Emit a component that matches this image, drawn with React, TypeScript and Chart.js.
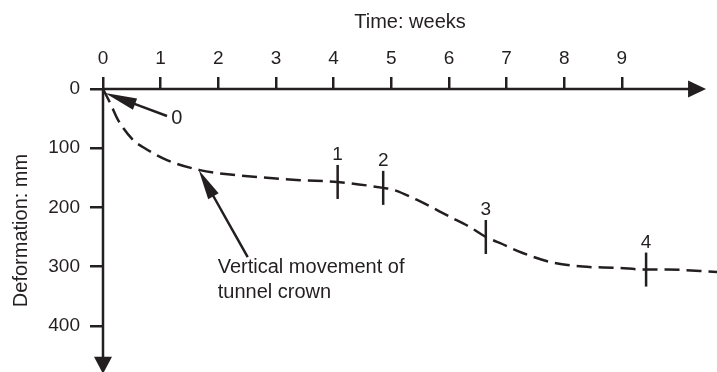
import React, { useEffect, useRef } from "react";
import { Chart, registerables } from "chart.js";

Chart.register(...registerables);

// ---- data ----
const WEEK_TICKS = [0, 1, 2, 3, 4, 5, 6, 7, 8, 9];
const DEFORMATION_TICKS = [0, 100, 200, 300, 400];

const CURVE_WEEKS = [0, 0.14, 0.26, 0.52, 0.69, 1.11, 1.68, 2.25, 2.72, 3.42, 4.07, 4.86, 5.03, 5.44, 6.02, 6.36, 6.64, 6.88, 7.28, 7.75, 8.32, 8.91, 9.42, 9.78, 10.65];
const CURVE_DEFORMATION = [0, 27, 52, 86, 98, 120, 137, 145, 149, 154, 157, 167, 170, 187, 216, 233, 250, 260, 277, 292, 300, 302, 305, 305, 309];

const MARKER_WEEKS = [4.07, 4.86, 6.64, 9.42];
const MARKER_DEFORMATION = [157, 167, 250, 305];
const MARKER_LABELS = ["1", "2", "3", "4"];

const X_TITLE = "Time: weeks";
const Y_TITLE = "Deformation: mm";
const CROWN_NOTE = ["Vertical movement of", "tunnel crown"];
const START_NOTE = "0";

const INK = "#231f20";
const FONT = '"Liberation Sans", Arial, Helvetica, sans-serif';

function arrow(ctx: CanvasRenderingContext2D, x1: number, y1: number, x2: number, y2: number, headLen: number, halfW: number) {
  const dx = x2 - x1, dy = y2 - y1;
  const len = Math.hypot(dx, dy);
  const ux = dx / len, uy = dy / len;
  const bx = x2 - ux * headLen, by = y2 - uy * headLen;
  ctx.beginPath();
  ctx.moveTo(x1, y1);
  ctx.lineTo(bx + ux * 2, by + uy * 2);
  ctx.stroke();
  ctx.beginPath();
  ctx.moveTo(x2, y2);
  ctx.lineTo(bx - uy * halfW, by + ux * halfW);
  ctx.lineTo(bx + uy * halfW, by - ux * halfW);
  ctx.closePath();
  ctx.fill();
}

const decorPlugin = {
  id: "decor",
  afterDraw(chart: any) {
    const { ctx } = chart;
    const xs = chart.scales.x, ys = chart.scales.y;
    const px = (v: number) => xs.getPixelForValue(v);
    const py = (v: number) => ys.getPixelForValue(v);
    ctx.save();
    ctx.strokeStyle = INK;
    ctx.fillStyle = INK;
    ctx.lineWidth = 2.5;
    ctx.lineCap = "butt";

    // axis lines with arrowheads
    const x0 = px(0), y0 = py(0);
    arrow(ctx, x0, y0, px(10.46), y0, 18, 8.5);
    arrow(ctx, x0, y0, x0, py(481), 17, 9);

    // annotation arrows
    ctx.lineWidth = 2.5;
    arrow(ctx, px(1.11), py(45.6), px(0.035), py(6.8), 32, 6);
    arrow(ctx, px(2.51), py(284), px(1.66), py(137), 30, 6);

    // texts
    ctx.font = `20px ${FONT}`;
    ctx.textAlign = "center";
    ctx.textBaseline = "middle";
    ctx.fillText(START_NOTE, px(1.28), py(50.6));

    ctx.textAlign = "left";
    ctx.fillText(CROWN_NOTE[0], px(1.99), py(302));
    ctx.fillText(CROWN_NOTE[1], px(1.99), py(343));

    // marker labels
    ctx.font = `19px ${FONT}`;
    ctx.textAlign = "center";
    ctx.textBaseline = "alphabetic";
    MARKER_WEEKS.forEach((w, i) => {
      ctx.fillText(MARKER_LABELS[i], px(w), py(MARKER_DEFORMATION[i]) - 22);
    });
    ctx.restore();
  },
};

export default function App() {
  const ref = useRef<HTMLCanvasElement>(null);
  useEffect(() => {
    if (!ref.current) return;
    const chart = new Chart(ref.current, {
      type: "line",
      data: {
        datasets: [
          {
            label: "Vertical movement of tunnel crown",
            data: CURVE_WEEKS.map((w, i) => ({ x: w, y: CURVE_DEFORMATION[i] })),
            borderColor: INK,
            borderWidth: 2.5,
            borderDash: [15, 7],
            pointRadius: 0,
            cubicInterpolationMode: "monotone",
            fill: false,
          },
          {
            label: "Markers",
            data: MARKER_WEEKS.map((w, i) => ({ x: w, y: MARKER_DEFORMATION[i] })),
            showLine: false,
            pointStyle: "line",
            pointRotation: 90,
            pointRadius: 17,
            pointBorderWidth: 2.5,
            pointBorderColor: INK,
            borderColor: INK,
          },
        ],
      } as any,
      options: {
        animation: false,
        responsive: false,
        maintainAspectRatio: false,
        layout: { padding: 0, autoPadding: false },
        plugins: { legend: { display: false }, tooltip: { enabled: false } },
        scales: {
          x: {
            type: "linear",
            position: "top",
            min: 0,
            max: 10.65,
            afterBuildTicks: (s: any) => { s.ticks = WEEK_TICKS.map((v) => ({ value: v })); },
            afterFit: (s: any) => { s.height = 89; s.paddingLeft = 0; s.paddingRight = 0; },
            border: { display: false },
            grid: { drawOnChartArea: false, drawTicks: true, tickLength: 12, color: INK, lineWidth: 2.5 },
            ticks: { autoSkip: false, maxRotation: 0, padding: 7, color: INK, font: { family: FONT, size: 19 } },
            title: { display: true, text: X_TITLE, color: INK, font: { family: FONT, size: 20 }, padding: { top: 10, bottom: 0 } },
          },
          y: {
            type: "linear",
            position: "left",
            reverse: true,
            min: 0,
            max: 478,
            afterBuildTicks: (s: any) => { s.ticks = DEFORMATION_TICKS.map((v) => ({ value: v })); },
            afterFit: (s: any) => { s.width = 103; s.paddingTop = 0; s.paddingBottom = 0; },
            border: { display: false },
            grid: { drawOnChartArea: false, drawTicks: true, tickLength: 13, color: INK, lineWidth: 2.5 },
            ticks: { autoSkip: false, padding: 10, color: INK, font: { family: FONT, size: 19 } },
            title: { display: true, text: Y_TITLE, color: INK, font: { family: FONT, size: 20 }, padding: { top: 9, bottom: 0 } },
          },
        },
      } as any,
      plugins: [decorPlugin],
    });
    return () => chart.destroy();
  }, []);
  return (
    <div style={{ position: "absolute", left: 0, top: 0, width: 717, height: 372, background: "#fff" }}>
      <canvas ref={ref} width={717} height={372} />
    </div>
  );
}
